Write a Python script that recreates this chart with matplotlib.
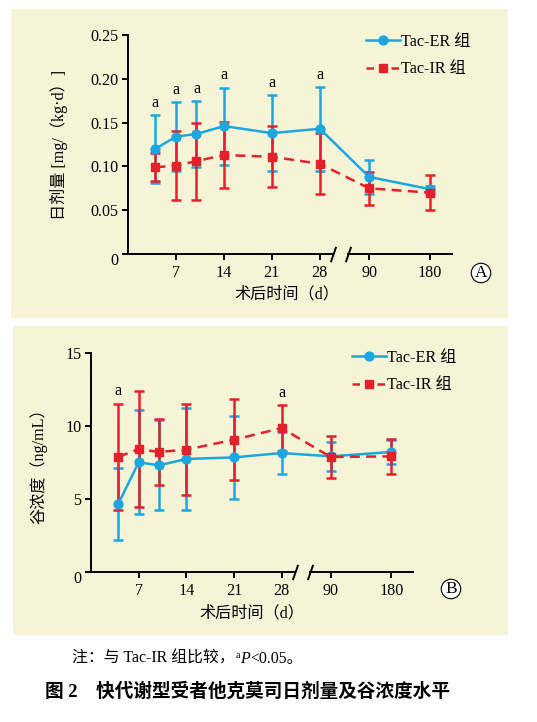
import numpy as np
import matplotlib
matplotlib.use("Agg")
import matplotlib.pyplot as plt
import matplotlib.transforms as mtransforms
from matplotlib.lines import Line2D
from matplotlib.patches import Rectangle
from matplotlib.path import Path

plt.rcParams['font.family'] = ['Liberation Serif', 'Noto Sans CJK SC']
plt.rcParams['axes.unicode_minus'] = False

# ---------------- data ----------------
days = [4, 7, 10, 14, 21, 28, 90, 180]
xtick_days = [7, 14, 21, 28, 90, 180]
xtick_labels = ['7', '14', '21', '28', '90', '180']

dose_er_mean = [0.120, 0.134, 0.137, 0.146, 0.138, 0.143, 0.088, 0.074]
dose_er_sd = [0.039, 0.039, 0.038, 0.044, 0.043, 0.048, 0.019, 0.004]
dose_ir_mean = [0.099, 0.101, 0.106, 0.113, 0.111, 0.103, 0.075, 0.070]
dose_ir_sd = [0.016, 0.039, 0.044, 0.038, 0.035, 0.035, 0.019, 0.020]
dose_sig = [True, True, True, True, True, True, False, False]

conc_er_mean = [4.66, 7.51, 7.31, 7.74, 7.85, 8.15, 7.92, 8.22]
conc_er_sd = [2.46, 3.57, 3.09, 3.50, 2.83, 1.46, 1.00, 0.82]
conc_ir_mean = [7.88, 8.42, 8.22, 8.38, 9.06, 9.86, 7.88, 7.92]
conc_ir_sd = [3.65, 3.95, 2.24, 3.13, 2.76, 1.59, 1.42, 1.21]
conc_sig = [True, False, False, False, False, True, False, False]

dose_yticks = [0, 0.05, 0.10, 0.15, 0.20, 0.25]
dose_ytick_labels = ['0', '0.05', '0.10', '0.15', '0.20', '0.25']
conc_yticks = [0, 5, 10, 15]
conc_ytick_labels = ['0', '5', '10', '15']

# broken time axis (days -> display position)
seg_days = [0, 28, 90, 180, 400]
seg_pos = [0, 28, 35.2, 44.1, 44.1 + 220 * 8.9 / 90]


def fwd(d):
    return np.interp(d, seg_days, seg_pos)


def inv(p):
    return np.interp(p, seg_pos, seg_days)


BLUE = '#1AA7E0'
RED = '#E5202B'
BG = '#F6F4D7'
FS = 11.6

W, H = 537, 722
fig = plt.figure(figsize=(W / 100, H / 100), dpi=100)
fig.patch.set_facecolor('white')

# panel backgrounds
fig.patches.append(Rectangle((11 / W, 1 - 318 / H), 497 / W, 309 / H,
                             transform=fig.transFigure, fc=BG, ec='none', zorder=-5))
fig.patches.append(Rectangle((13 / W, 1 - 635 / H), 495 / W, 309 / H,
                             transform=fig.transFigure, fc=BG, ec='none', zorder=-5))

slash = Path([(-0.35, -1), (0.35, 1)], [Path.MOVETO, Path.LINETO])


def draw_panel(rect, er_m, er_s, ir_m, ir_s, sig, yticks, ylabels, ylim,
               ylabel, leg_xy, letter_xy, letter):
    ax = fig.add_axes(rect, zorder=2)
    ax.set_facecolor('none')
    ax.set_xscale('function', functions=(fwd, inv))
    xmax = inv(47.3)
    ax.set_xlim(0, xmax)
    ax.set_ylim(*ylim)
    for s in ['top', 'right', 'bottom']:
        ax.spines[s].set_visible(False)
    ax.spines['left'].set_linewidth(1.4)
    # broken x axis
    b1, b2 = inv(30.0), inv(32.1)
    ax.plot([0, b1], [0, 0], color='black', lw=1.4, clip_on=False, zorder=2)
    ax.plot([b2, xmax], [0, 0], color='black', lw=1.4, clip_on=False, zorder=2)
    ax.plot([b1, b2], [0, 0], ls='none', marker=slash, ms=11, mec='black',
            mew=1.4, clip_on=False, zorder=2)
    ax.set_xticks(xtick_days)
    ax.set_xticklabels(xtick_labels)
    ax.xaxis.set_minor_locator(matplotlib.ticker.NullLocator())
    ax.set_yticks(yticks)
    ax.set_yticklabels(ylabels)
    ax.tick_params(axis='both', direction='out', length=4, width=1.4,
                   labelsize=FS, pad=3)
    ax.tick_params(axis='x', pad=4)
    # the "0" label sits slightly below the axis line
    zero_lbl = ax.get_yticklabels()[0]
    zero_lbl.set_transform(zero_lbl.get_transform() +
                           mtransforms.ScaledTranslation(0, -5 / 100, fig.dpi_scale_trans))

    ekw = dict(fmt='none', capsize=3.4, capthick=1.8, elinewidth=1.8)
    ax.errorbar(days, er_m, yerr=er_s, ecolor=BLUE, zorder=3, **ekw)
    ax.errorbar(days, ir_m, yerr=ir_s, ecolor=RED, zorder=4, **ekw)
    ax.plot(days, er_m, color=BLUE, lw=1.8, marker='o', ms=6.4, zorder=5)
    ax.plot(days, ir_m, color=RED, lw=1.8, ls=(0, (4, 2.5)), marker='s',
            ms=6.4, zorder=6)
    for d, m1, s1, m2, s2, g in zip(days, er_m, er_s, ir_m, ir_s, sig):
        if g:
            top = max(m1 + s1, m2 + s2)
            ax.annotate('a', xy=(d, top), xytext=(0, 3), textcoords='offset points',
                        ha='center', va='bottom', fontsize=FS, zorder=7)
    ax.set_ylabel(ylabel, fontsize=FS)
    ax.set_xlabel('术后时间（d）', fontsize=FS, labelpad=3)

    handles = [Line2D([], [], color=BLUE, lw=1.8, marker='o', ms=6.4),
               Line2D([], [], color=RED, lw=1.8, ls=(0, (3, 2)), marker='s', ms=6.4)]
    ax.legend(handles, ['Tac-ER 组', 'Tac-IR 组'], loc='upper left',
              bbox_to_anchor=leg_xy, bbox_transform=fig.transFigure,
              frameon=False, borderpad=0, borderaxespad=0, handlelength=2.1,
              handletextpad=0.1, labelspacing=0.7, fontsize=FS)
    fig.text(letter_xy[0] / W, 1 - letter_xy[1] / H, letter, ha='center',
             va='center', fontsize=12.5,
             bbox=dict(boxstyle='circle,pad=0.1', fc='white', ec='black', lw=0.8))
    return ax


axA = draw_panel([128 / W, 1 - 254 / H, 324 / W, 219 / H],
                 dose_er_mean, dose_er_sd, dose_ir_mean, dose_ir_sd, dose_sig,
                 dose_yticks, dose_ytick_labels, (0, 0.25),
                 '日剂量 [mg/（kg·d）]', (366 / W, 1 - 34 / H), (481, 273), 'A')
axA.yaxis.set_label_coords(-0.185, 0.5)
axA.xaxis.set_label_coords(0.49, -0.15)

axB = draw_panel([91 / W, 1 - 572 / H, 322 / W, 219 / H],
                 conc_er_mean, conc_er_sd, conc_ir_mean, conc_ir_sd, conc_sig,
                 conc_yticks, conc_ytick_labels, (0, 15),
                 '谷浓度（ng/mL）', (352 / W, 1 - 350 / H), (451, 589), 'B')
axB.yaxis.set_label_coords(-0.135, 0.5)
axB.xaxis.set_label_coords(0.5, -0.155)

# footnote
FN = 11.4
t1 = fig.text(72 / W, 1 - 663 / H, '注：与 Tac-IR 组比较，', fontsize=FN,
              ha='left', va='baseline')
t2 = fig.text(0, 0, 'a', fontsize=7, ha='left', va='baseline')
t3 = fig.text(0, 0, 'P', fontsize=FN, style='italic', ha='left', va='baseline')
t4 = fig.text(0, 0, '<0.05。', fontsize=FN, ha='left', va='baseline')

fig.canvas.draw()
r = fig.canvas.get_renderer()
x = t1.get_window_extent(r).x1
y0 = t1.get_position()[1]
t2.set_position((x / W + 1 / W, y0 + 5 / H))
fig.canvas.draw()
x = t2.get_window_extent(r).x1
t3.set_position((x / W, y0))
fig.canvas.draw()
x = t3.get_window_extent(r).x1
t4.set_position((x / W, y0))

fig.text(45 / W, 1 - 692 / H, '图 2　快代谢型受者他克莫司日剂量及谷浓度水平',
         fontsize=13.4, fontweight='bold', ha='left', va='center')

fig.savefig('out.png', dpi=100, facecolor='white')
